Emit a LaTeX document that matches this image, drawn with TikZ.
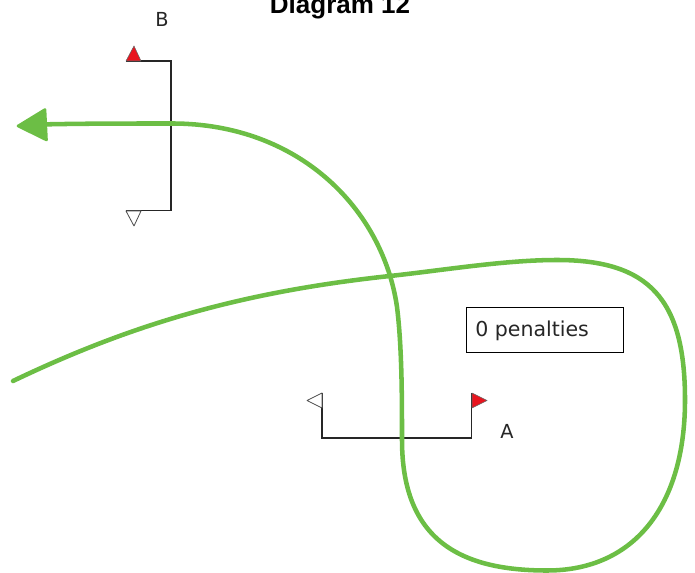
\documentclass[tikz,border=0pt]{standalone}
\usepackage{fontspec}
\setmainfont{Liberation Sans}
\newfontfamily\vera{DejaVu Sans}
\definecolor{routegreen}{HTML}{6CBE45}
\definecolor{flagred}{HTML}{E8141E}
\tikzset{
  x=0.75pt,y=-0.75pt,
  bracket/.style={draw=black!85,line width=0.8pt},
  redflag/.style={draw=black!60,fill=flagred,line width=0.4pt,line join=round},
  whiteflag/.style={draw=black!70,fill=white,line width=0.6pt,line join=round},
  route/.style={draw=routegreen,line width=3.4pt,line cap=round,line join=round},
  label/.style={inner sep=0pt,font=\fontsize{14.5pt}{16pt}\vera,text=black!85},
}
\begin{document}
\begin{tikzpicture}
\useasboundingbox (0,0) rectangle (695,573);
\clip (0,0) rectangle (695,573);
\node[inner sep=0pt,anchor=base,font=\bfseries\fontsize{19.5pt}{22pt}\selectfont] (title) at (340,14) {Diagram 12};
\node[label] (b) at (162,19.5) {B};
\node[label] (a) at (507,431) {A};
\node[draw=black,line width=0.8pt,inner sep=0pt,anchor=north west,minimum width=118pt,minimum height=33.5pt] (box) at (466,307) {};
\node[anchor=west,inner sep=0pt,font=\fontsize{15.4pt}{18pt}\vera,text=black!85] (boxt) at (475,330.5) {0 penalties};
% flags
\coordinate (b1) at (126,61);
\coordinate (b2) at (171,61);
\coordinate (b3) at (171,210.5);
\coordinate (b4) at (126,210.5);
\draw[bracket] (b1)--(b2)--(b3)--(b4);
\draw[redflag] (126,61)--(134,46)--(141,61)--cycle;
\draw[whiteflag] (126,211)--(141,211)--(134,226)--cycle;
\coordinate (a1) at (322,393);
\coordinate (a2) at (322,438);
\coordinate (a3) at (471.5,438);
\coordinate (a4) at (471.5,393);
\draw[bracket] (a1)--(a2)--(a3)--(a4);
\draw[redflag] (472,393)--(487,400.5)--(472,408)--cycle;
\draw[whiteflag] (322,393)--(307,400.5)--(322,408)--cycle;
% route
\coordinate (s) at (13,381);
\coordinate (e) at (40,124.5);
\draw[route] (s)
 .. controls (130,325) and (240,292) .. (390,276)
 .. controls (445,270) and (505,260) .. (557,260)
 .. controls (650,260) and (685,300) .. (685,400)
 .. controls (685,505) and (635,570.5) .. (547,570.5)
 .. controls (460,570.5) and (402,540) .. (402,440)
 .. controls (402,400) and (402,347) .. (397,307)
 .. controls (383,210) and (300,123.5) .. (172,123.5)
 .. controls (130,123.5) and (80,123.5) .. (e);
\fill[routegreen,draw=routegreen,line width=2pt,line join=round] (18,126)--(45,109.5)--(46.5,140)--cycle;
\end{tikzpicture}
\end{document}
